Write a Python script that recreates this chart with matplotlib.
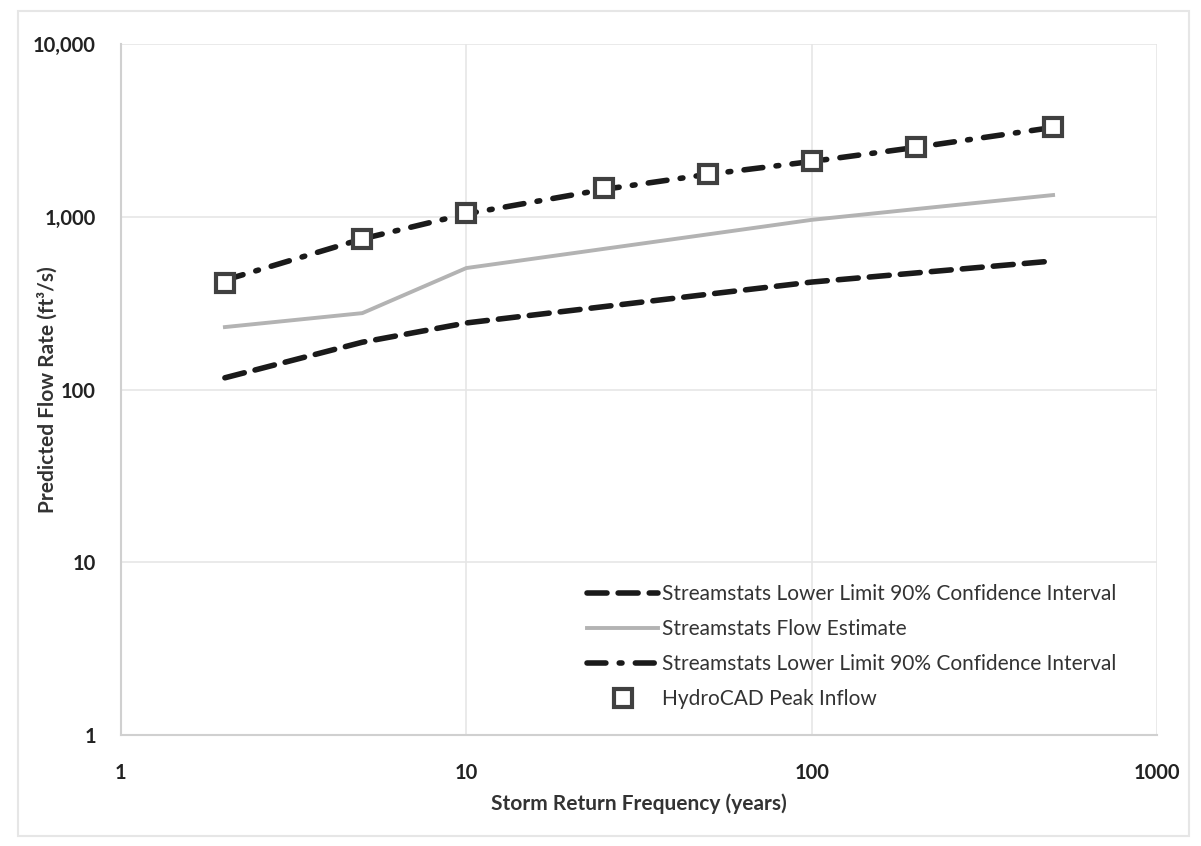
import numpy as np
import matplotlib.pyplot as plt

plt.rcParams['font.family'] = ['Lato', 'DejaVu Sans']

# Return periods (years)
years = [2, 5, 10, 25, 50, 100, 200, 500]

# Flow values (ft3/s)
lower_ci = [117, 188, 243, 302, 356, 419, 473, 555]
flow_est = [230, 277, 505, 652, 791, 960, 1108, 1336]
upper_ci = [430, 745, 1040, 1440, 1760, 2090, 2520, 3290]
hydrocad = [414, 743, 1052, 1467, 1768, 2102, 2535, 3310]

labels = ['Streamstats Lower Limit 90% Confidence Interval',
          'Streamstats Flow Estimate',
          'Streamstats Lower Limit 90% Confidence Interval',
          'HydroCAD Peak Inflow']

fig = plt.figure(figsize=(12.01, 8.46), dpi=100)
ax = fig.add_axes([0.1007, 0.131, 0.8627, 0.817])

ax.plot(years, lower_ci, color='#1a1a1a', lw=4, ls=(0, (3.6, 2.0)),
        dash_capstyle='round', label=labels[0])
ax.plot(years, flow_est, color='#b3b3b3', lw=2.8, label=labels[1])
ax.plot(years, upper_ci, color='#1a1a1a', lw=4, ls=(0, (3.4, 2.4, 0.5, 2.4)),
        dash_capstyle='round', label=labels[2])
ax.plot(years, hydrocad, ls='none', marker='s', ms=13, mfc='white',
        mec='#404040', mew=3, label=labels[3])

ax.set_xscale('log')
ax.set_yscale('log')
ax.set_xlim(1, 1000)
ax.set_ylim(1, 10000)
ax.set_xticks([1, 10, 100, 1000])
ax.set_xticklabels(['1', '10', '100', '1000'])
ax.set_yticks([1, 10, 100, 1000, 10000])
ax.set_yticklabels(['1', '10', '100', '1,000', '10,000'])
ax.minorticks_off()
ax.tick_params(length=0, labelsize=14.5, colors='#222222')
ax.tick_params(axis='x', pad=20)
ax.tick_params(axis='y', pad=18)
for lab in ax.get_xticklabels() + ax.get_yticklabels():
    lab.set_fontweight('bold')

ax.grid(True, which='major', color='#e6e6e6', lw=1.2)
for s in ['top', 'right']:
    ax.spines[s].set_visible(False)
for s in ['left', 'bottom']:
    ax.spines[s].set_color('#d0d0d0')
    ax.spines[s].set_linewidth(1.5)

ax.set_xlabel('Storm Return Frequency (years)', fontsize=15, fontweight='bold',
              color='#333333')
ax.set_ylabel('Predicted Flow Rate (ft³/s)', fontsize=15, fontweight='bold',
              color='#333333')
ax.xaxis.set_label_coords(0.5, -0.084)
ax.yaxis.set_label_coords(-0.061, 0.5)

leg = ax.legend(loc='upper left', bbox_to_anchor=(583 / 1201, 1 - 580 / 846),
                bbox_transform=fig.transFigure, frameon=False, fontsize=15,
                handlelength=3.4, handletextpad=0.2, labelspacing=0.72,
                borderaxespad=0, borderpad=0.2)
for t in leg.get_texts():
    t.set_color('#333333')

# outer chart border
fig.patches.append(plt.Rectangle((0.015, 0.012), 0.975, 0.975, transform=fig.transFigure,
                                 fill=False, ec='#e6e6e6', lw=1.5))

fig.savefig('out.png', dpi=100)
